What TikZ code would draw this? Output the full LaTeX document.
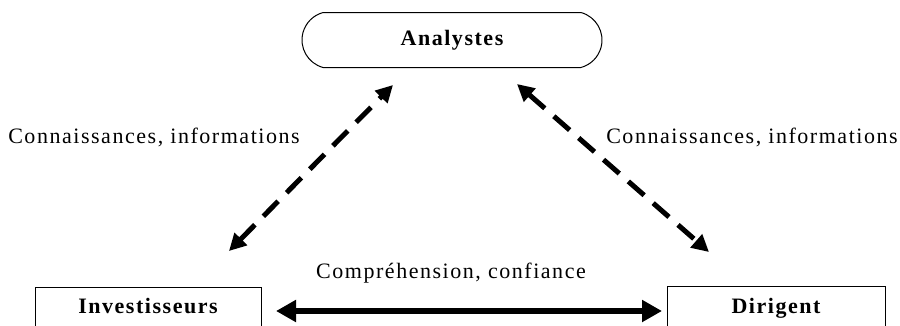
\documentclass[tikz,border=0pt]{standalone}
\usepackage{fontspec}
\setmainfont{Liberation Serif}[LetterSpace=7]
\usetikzlibrary{arrows.meta,shapes.misc}
\begin{document}
\begin{tikzpicture}[x=1pt,y=-1pt,
  lbl/.style={font=\fontsize{22}{24}\selectfont, inner sep=0pt},
  title/.style={font=\fontsize{22}{24}\selectfont\bfseries, inner sep=0pt},
  partybox/.style={draw, line width=1pt, minimum width=226pt, minimum height=80pt, inner sep=0pt},
  dashlink/.style={line width=5pt, dash pattern=on 21pt off 12pt,
    {Triangle[length=17pt,width=17pt]}-{Triangle[length=17pt,width=17pt]}},
  solidlink/.style={line width=6pt,
    {Triangle[length=20pt,width=21pt]}-{Triangle[length=20pt,width=21pt]}}
]
\clip (0,0) rectangle (900,325);
\fill[white] (0,0) rectangle (900,325);

% the three parties
\node[draw, rounded rectangle, rounded rectangle arc length=150, line width=1pt, minimum width=300pt, minimum height=55pt, inner sep=0pt] (ana) at (452,40) {};
\node[title] at (ana.center) {Analystes};

\node[partybox, anchor=north west] (inv) at (35,287) {};
\node[title] at (148,306) {Investisseurs};

\node[partybox, minimum width=218pt, anchor=north west] (dir) at (667,286) {};
\node[title] at (776,308) {Dirigent};

% end points of the links
\coordinate (aL) at (393,85);
\coordinate (iT) at (229,251);
\coordinate (aR) at (517,84);
\coordinate (dT) at (709,252);
\coordinate (iR) at (276,311);
\coordinate (dL) at (662,311);

\draw[dashlink] (iT) -- (aL);
\draw[dashlink] (aR) -- (dT);
\draw[solidlink] (iR) -- (dL);

% link labels
\node[lbl] at (154,137) {Connaissances, informations};
\node[lbl] at (752,137) {Connaissances, informations};
\node[lbl] at (451,273) {Compréhension, confiance};
\end{tikzpicture}
\end{document}
